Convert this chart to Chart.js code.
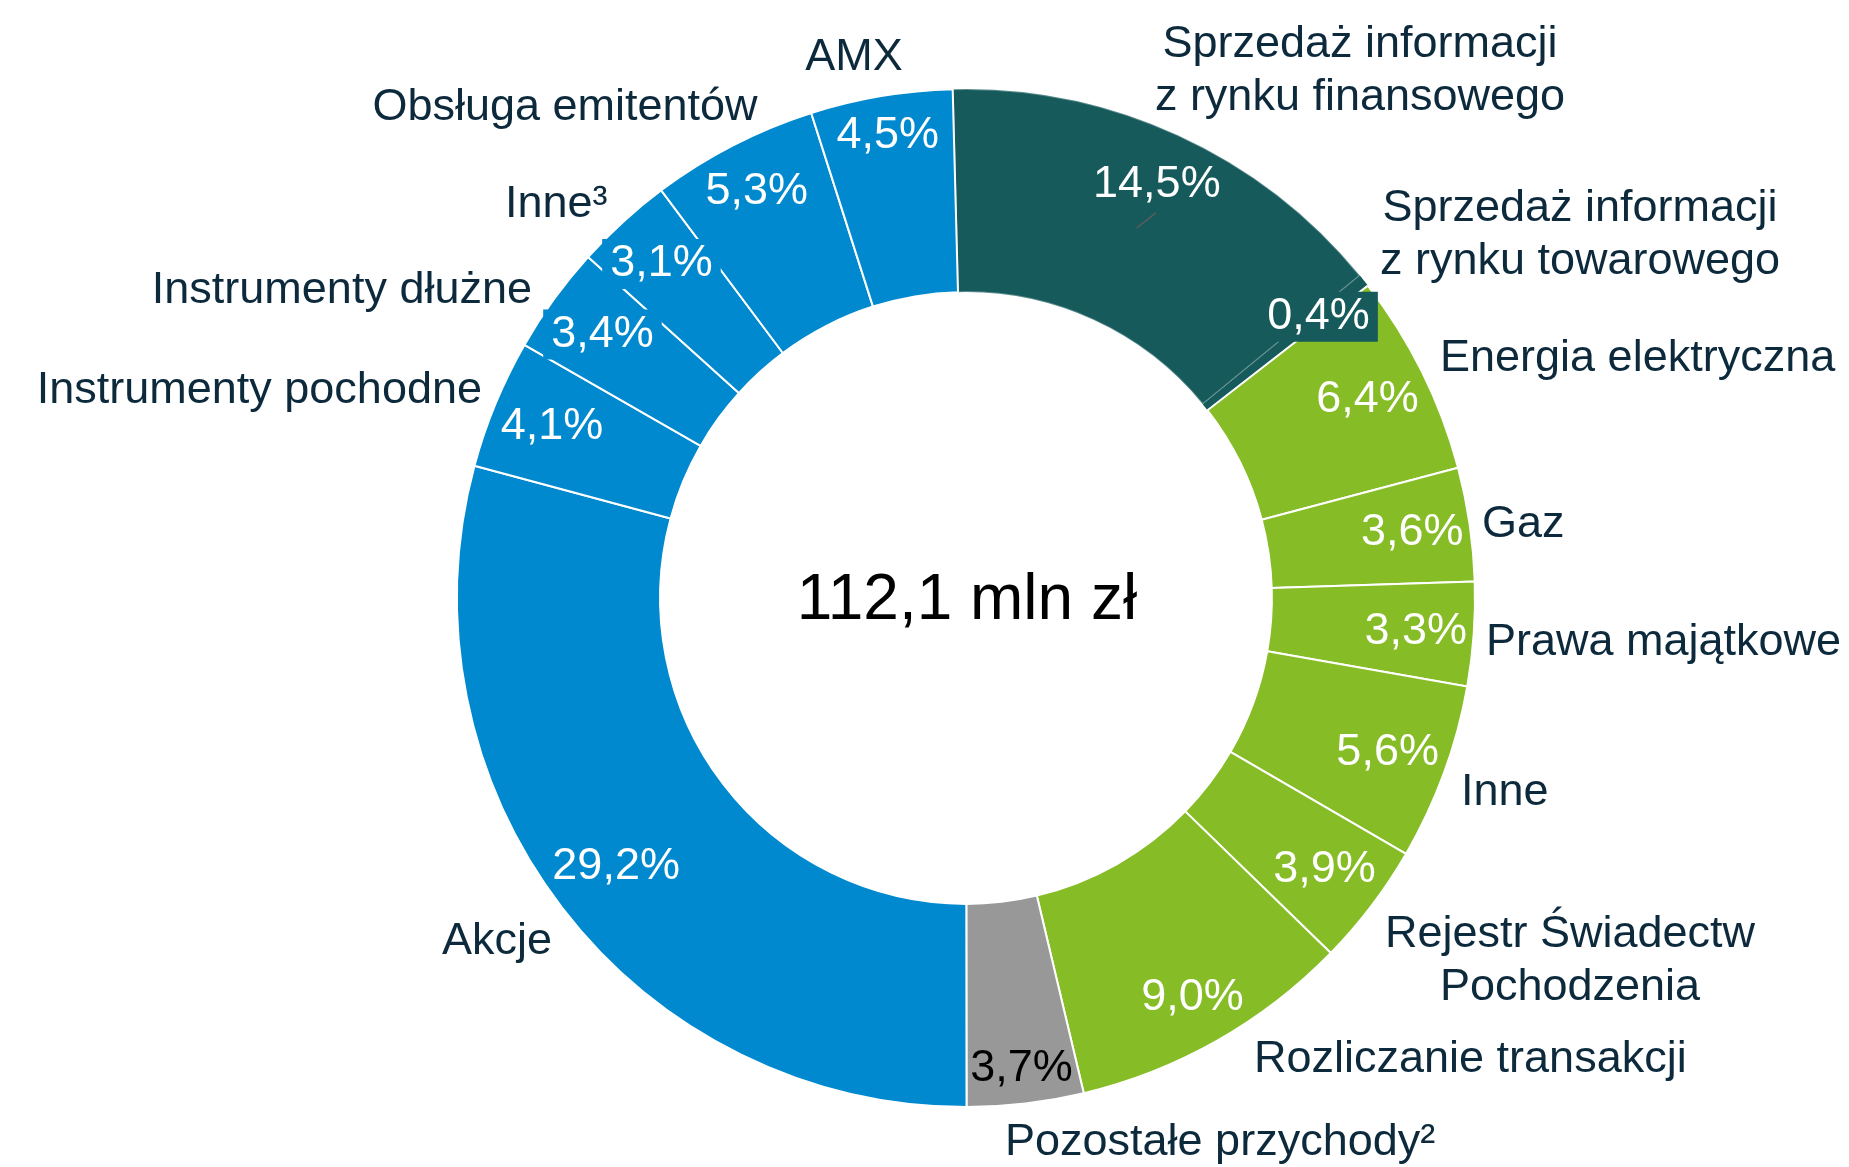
<!DOCTYPE html>
<html lang="pl">
<head>
<meta charset="utf-8">
<title>Struktura przychodów</title>
<script src="https://cdn.jsdelivr.net/npm/chart.js@4.4.1/dist/chart.umd.min.js"></script>
<style>
    html, body { margin: 0; padding: 0; background: #ffffff; }
    #wrap { position: relative; width: 1849px; height: 1167px; }
</style>
</head>
<body>
<div id="wrap"><canvas id="revenueChart"></canvas></div>
<script>
// ============================================================
// Revenue structure — doughnut with outside category names
// ============================================================

// ---- data ----
var categories = [
    'Sprzedaż informacji\nz rynku finansowego',
    'Sprzedaż informacji\nz rynku towarowego',
    'Energia elektryczna',
    'Gaz',
    'Prawa majątkowe',
    'Inne',
    'Rejestr Świadectw\nPochodzenia',
    'Rozliczanie transakcji',
    'Pozostałe przychody²',
    'Akcje',
    'Instrumenty pochodne',
    'Instrumenty dłużne',
    'Inne³',
    'Obsługa emitentów',
    'AMX'
];
var shares = [14.5, 0.4, 6.4, 3.6, 3.3, 5.6, 3.9, 9.0, 3.7, 29.2, 4.1, 3.4, 3.1, 5.3, 4.5];
var segments = [
    'info', 'info',
    'commodity', 'commodity', 'commodity', 'commodity', 'commodity', 'commodity',
    'other',
    'financial', 'financial', 'financial', 'financial', 'financial', 'financial'
];
var totalLabel = '112,1 mln zł';

// ---- styles ----
var segmentColors = {
    info: '#165a5c',
    commodity: '#86bc25',
    other: '#989898',
    financial: '#0089cf'
};
var TEXT_DARK = '#0d2a3d';
var FONT = '"Liberation Sans", Arial, Helvetica, sans-serif';
var LABEL_SIZE = 45;
var LINE_GAP = 53;

var sliceColors = segments.map(function(s) { return segmentColors[s]; });

// percent label radius (px from centre) and small angle nudges (deg)
var pctRadius = [455, 451, 448, 451, 451, 449, 450, 459, 474, 441, 448, 449, 452, 457, 469];
var pctNudge  = [0.2, 0, 0, 0, 0.2, 0, 0, 0, 0, 0, 0, 0, 0, 0, 0];
var pctBoxed  = [false, true, false, false, false, false, false, false, false, false, false, true, true, false, false];

// category names, offsets from the doughnut centre (baseline of first line)
var nameLayout = [
    { dx: 394,  dy: -541, align: 'center' },
    { dx: 614,  dy: -377, align: 'center' },
    { dx: 474,  dy: -227, align: 'left' },
    { dx: 516,  dy: -61,  align: 'left' },
    { dx: 520,  dy: 57,   align: 'left' },
    { dx: 495,  dy: 207,  align: 'left' },
    { dx: 604,  dy: 349,  align: 'center' },
    { dx: 288,  dy: 474,  align: 'left' },
    { dx: 39,   dy: 557,  align: 'left' },
    { dx: -414, dy: 356,  align: 'right' },
    { dx: -484, dy: -195, align: 'right' },
    { dx: -434, dy: -295, align: 'right' },
    { dx: -461, dy: -381, align: 'left' },
    { dx: -401, dy: -478, align: 'center' },
    { dx: -112, dy: -528, align: 'center' }
];

function formatPct(v) {
    return v.toFixed(1).replace('.', ',') + '%';
}

var labelPlugin = {
    id: 'sliceLabels',
    afterDatasetsDraw: function(chart) {
        var ctx = chart.ctx;
        var arcs = chart.getDatasetMeta(0).data;
        if (!arcs.length) return;
        var cx = arcs[0].x;
        var cy = arcs[0].y;

        ctx.save();

        // percentages inside the ring
        ctx.font = LABEL_SIZE + 'px ' + FONT;
        ctx.textAlign = 'center';
        ctx.textBaseline = 'middle';
        arcs.forEach(function(arc, i) {
            var p = arc.getProps(['startAngle', 'endAngle'], true);
            var mid = (p.startAngle + p.endAngle) / 2 + pctNudge[i] * Math.PI / 180;
            var x = cx + Math.cos(mid) * pctRadius[i];
            var y = cy + Math.sin(mid) * pctRadius[i];
            var text = formatPct(shares[i]);
            if (pctBoxed[i]) {
                var w = ctx.measureText(text).width;
                ctx.fillStyle = sliceColors[i];
                ctx.fillRect(x - w / 2 - 8, y - 25, w + 16, 50);
            }
            ctx.fillStyle = segments[i] === 'other' ? '#000000' : '#ffffff';
            ctx.fillText(text, x, y);

            // short leader tick under the largest info label
            if (i === 0) {
                ctx.strokeStyle = '#5b5b5b';
                ctx.lineWidth = 1.5;
                ctx.beginPath();
                ctx.moveTo(x - 20, y + 43);
                ctx.lineTo(x - 1, y + 28);
                ctx.stroke();
            }
        });

        // category names around the ring
        ctx.fillStyle = TEXT_DARK;
        ctx.textBaseline = 'alphabetic';
        categories.forEach(function(name, i) {
            var l = nameLayout[i];
            ctx.textAlign = l.align;
            name.split('\n').forEach(function(line, k) {
                ctx.fillText(line, cx + l.dx, cy + l.dy + k * LINE_GAP);
            });
        });

        // total in the hole
        ctx.fillStyle = '#000000';
        ctx.font = '64px ' + FONT;
        ctx.textAlign = 'center';
        ctx.fillText(totalLabel, cx + 1, cy + 21);

        ctx.restore();
    }
};

var borderColors = shares.map(function(v, i) { return i === 0 ? 'rgba(255,255,255,0.3)' : '#ffffff'; });
var borderWidths = shares.map(function(v, i) { return i === 1 ? 0 : 2; });

var chart = new Chart(document.getElementById('revenueChart').getContext('2d'), {
    type: 'doughnut',
    data: {
        labels: categories,
        datasets: [{
            data: shares,
            backgroundColor: sliceColors,
            borderColor: borderColors,
            borderWidth: borderWidths,
            radius: 509,
            cutout: '60.1%'
        }]
    },
    options: {
        responsive: true,
        maintainAspectRatio: false,
        devicePixelRatio: 1,
        animation: false,
        rotation: -1.5,
        layout: { padding: { left: 446, right: 363, top: 78, bottom: 49 } },
        plugins: {
            legend: { display: false },
            tooltip: { enabled: false }
        }
    },
    plugins: [labelPlugin]
});
</script>
</body>
</html>
